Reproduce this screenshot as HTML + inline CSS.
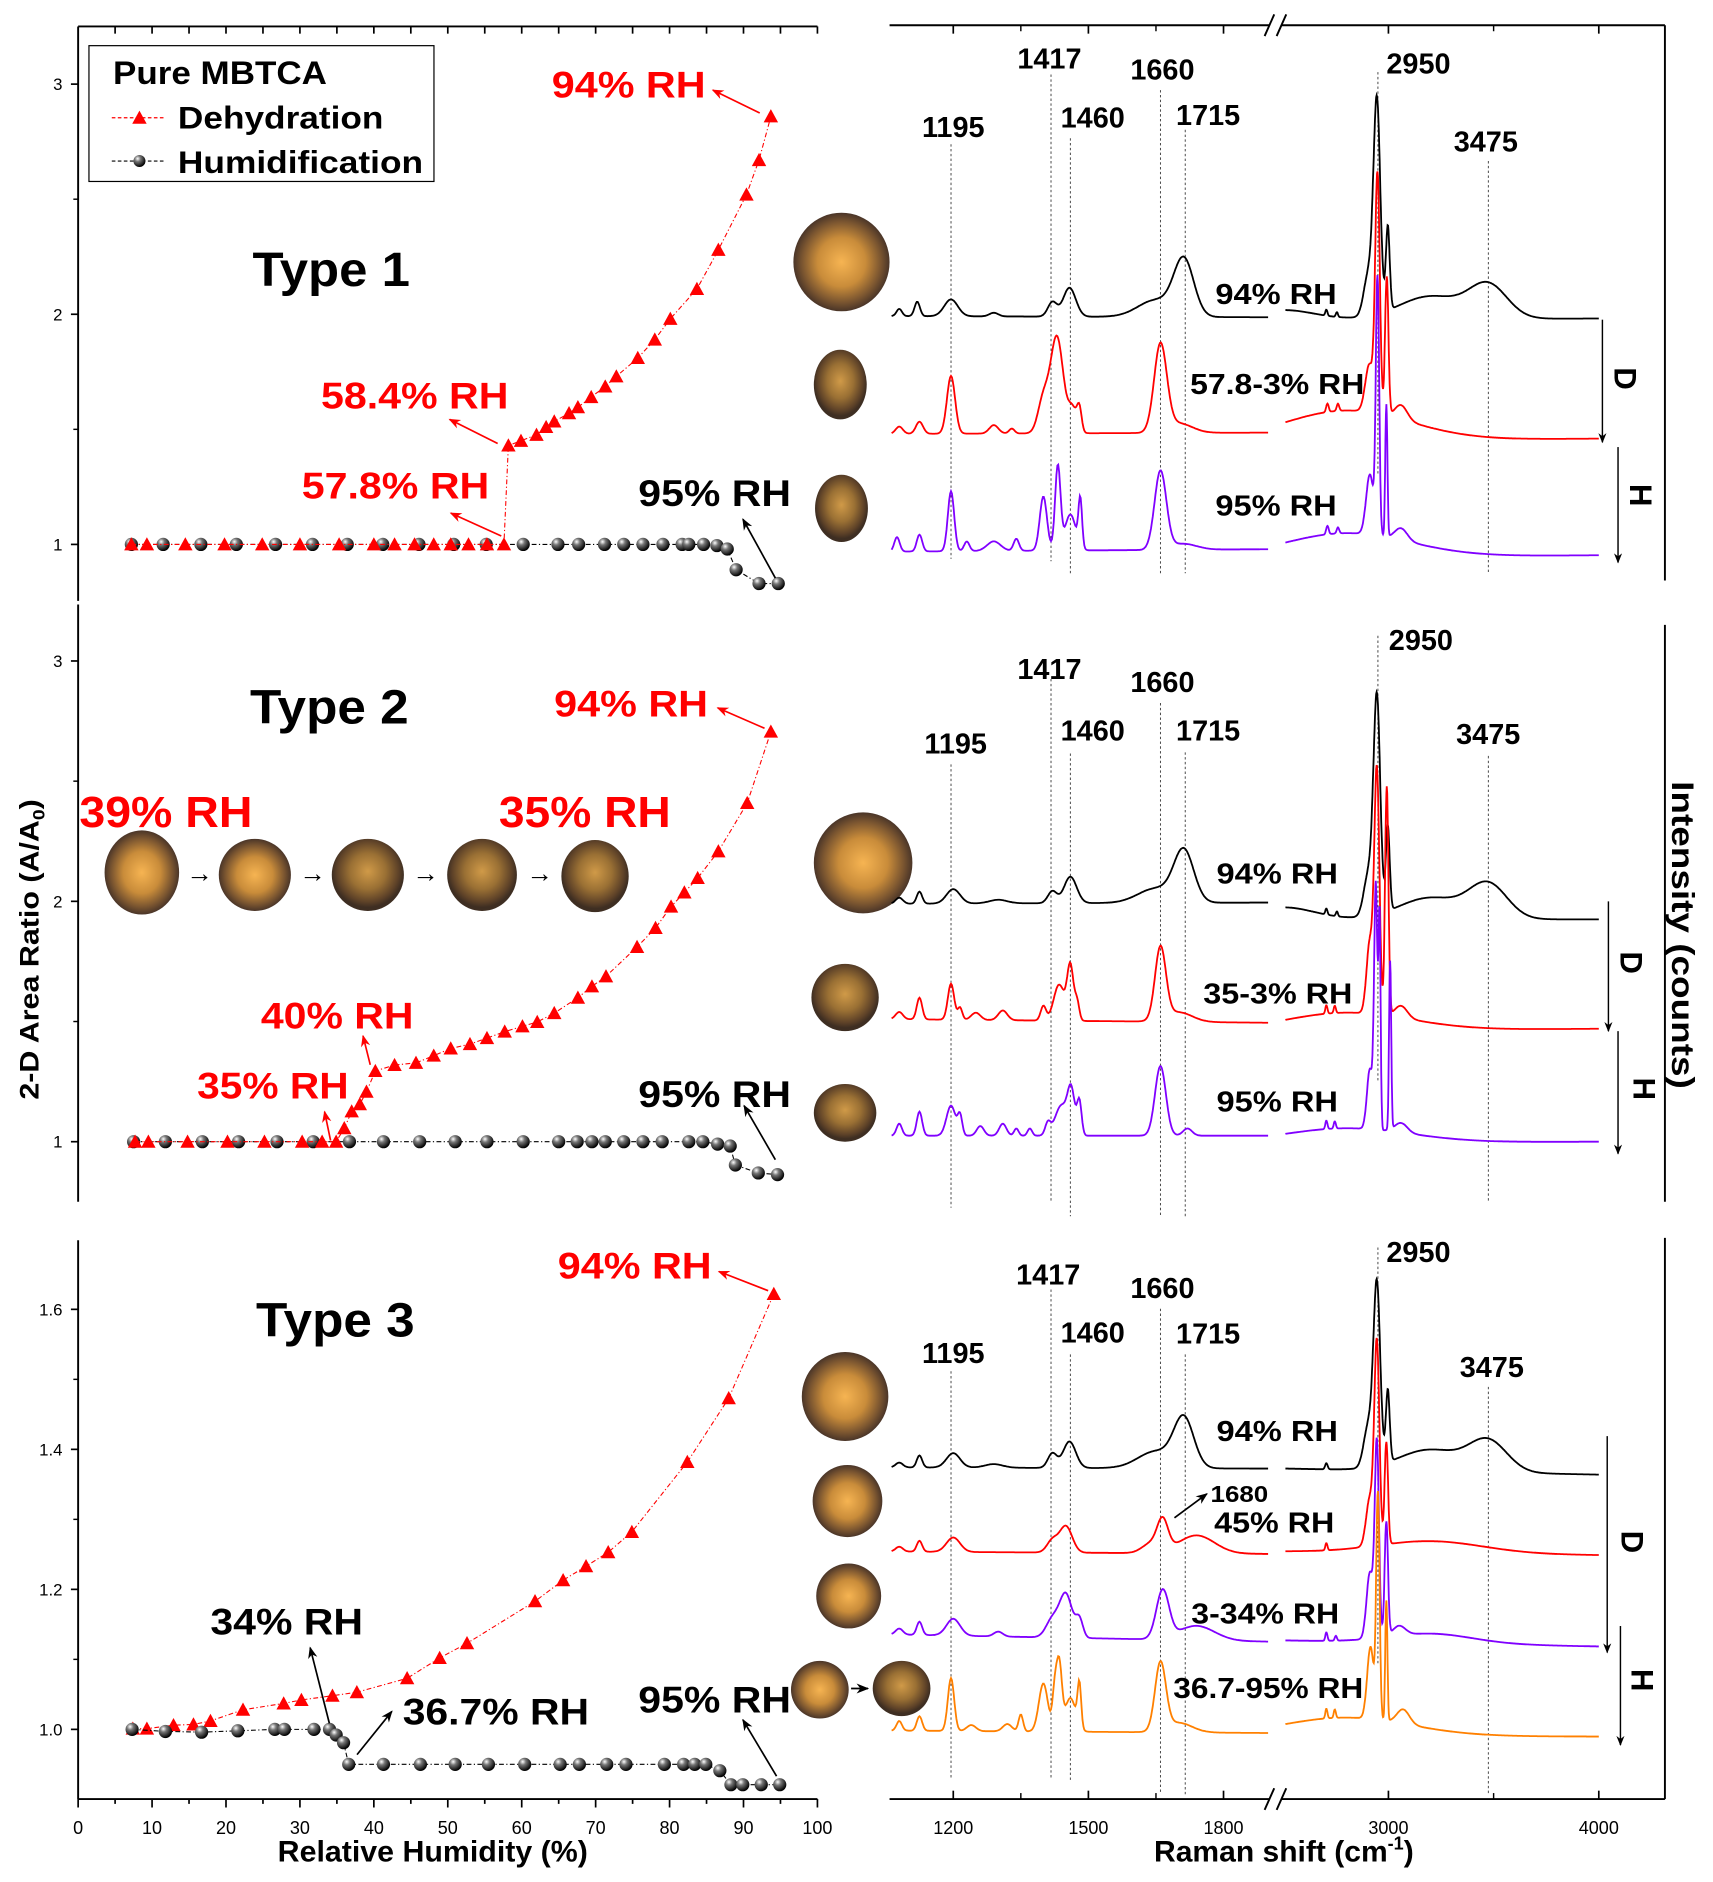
<!DOCTYPE html>
<html><head><meta charset="utf-8"><title>MBTCA hygroscopic growth and Raman spectra</title>
<style>
html,body{margin:0;padding:0;background:#fff;}
svg{display:block;font-family:"Liberation Sans",Arial,sans-serif;}
.b{font-weight:bold;}
</style></head>
<body>
<svg id="fig" xmlns="http://www.w3.org/2000/svg" width="1713" height="1882" viewBox="0 0 1425 1566" preserveAspectRatio="none">
<defs>
<radialGradient id="sph" cx="0.35" cy="0.3" r="0.7"><stop offset="0" stop-color="#fff"/><stop offset="0.35" stop-color="#777"/><stop offset="1" stop-color="#000"/></radialGradient>
<radialGradient id="drop" cx="0.5" cy="0.5" r="0.5"><stop offset="0" stop-color="#f6b452"/><stop offset="0.5" stop-color="#c98c3a"/><stop offset="0.82" stop-color="#7a5530"/><stop offset="1" stop-color="#4a3528"/></radialGradient>
<radialGradient id="drop2" cx="0.5" cy="0.45" r="0.5"><stop offset="0" stop-color="#d09a48"/><stop offset="0.5" stop-color="#9a7034"/><stop offset="0.85" stop-color="#5e4228"/><stop offset="1" stop-color="#3e2e22"/></radialGradient>
<marker id="ah" viewBox="0 0 10 10" refX="9" refY="5" markerWidth="7" markerHeight="7" orient="auto"><path d="M0,1 L10,5 L0,9 L3,5 z" fill="#000"/></marker>
<marker id="ahr" viewBox="0 0 10 10" refX="9" refY="5" markerWidth="7" markerHeight="7" orient="auto"><path d="M0,1 L10,5 L0,9 L3,5 z" fill="#f00"/></marker>
</defs>

<g stroke="#000" stroke-width="1.6" fill="none">
<line x1="65" y1="22" x2="65" y2="500"/>
<line x1="65" y1="22" x2="680" y2="22"/>
<line x1="65" y1="503" x2="65" y2="1000"/>
<line x1="65" y1="1032" x2="65" y2="1497"/>
<line x1="65" y1="1497" x2="680" y2="1497"/>
</g>
<g id="leftTicks"></g>

<g>
<rect x="74" y="38" width="287" height="113" fill="#fff" stroke="#000" stroke-width="1"/>
<text class="b" x="94" y="70" font-size="27" textLength="178" lengthAdjust="spacingAndGlyphs">Pure MBTCA</text>
<g>
<line x1="93" y1="98" x2="137" y2="98" stroke="#f00" stroke-width="1" stroke-dasharray="3 2"/>
<path d="M110,103 L122,103 L116,92 z" fill="#f00"/>
<text class="b" x="148" y="107" font-size="26" textLength="171" lengthAdjust="spacingAndGlyphs">Dehydration</text></g>
<g>
<line x1="93" y1="134" x2="137" y2="134" stroke="#000" stroke-width="1" stroke-dasharray="3 2"/>
<circle cx="116" cy="134" r="5" fill="url(#sph)"/>
<text class="b" x="148" y="144" font-size="26" textLength="204" lengthAdjust="spacingAndGlyphs">Humidification</text></g>
</g>

<g id="leftData"></g>

<g class="b">
<text x="210" y="238" font-size="40" textLength="131" lengthAdjust="spacingAndGlyphs">Type 1</text>
<text x="208" y="602" font-size="40" textLength="132" lengthAdjust="spacingAndGlyphs">Type 2</text>
<text x="213" y="1112" font-size="40" textLength="132" lengthAdjust="spacingAndGlyphs">Type 3</text>
<g fill="#f00">
<text x="459" y="81" font-size="31" textLength="128" lengthAdjust="spacingAndGlyphs">94% RH</text>
<text x="267" y="340" font-size="31" textLength="156" lengthAdjust="spacingAndGlyphs">58.4% RH</text>
<text x="251" y="415" font-size="31" textLength="156" lengthAdjust="spacingAndGlyphs">57.8% RH</text>
<text x="461" y="596" font-size="31" textLength="128" lengthAdjust="spacingAndGlyphs">94% RH</text>
<text x="66" y="688" font-size="36" textLength="144" lengthAdjust="spacingAndGlyphs">39% RH</text>
<text x="415" y="688" font-size="36" textLength="143" lengthAdjust="spacingAndGlyphs">35% RH</text>
<text x="217" y="856" font-size="31" textLength="127" lengthAdjust="spacingAndGlyphs">40% RH</text>
<text x="164" y="914" font-size="31" textLength="126" lengthAdjust="spacingAndGlyphs">35% RH</text>
<text x="464" y="1064" font-size="31" textLength="128" lengthAdjust="spacingAndGlyphs">94% RH</text>
</g>
<text x="531" y="421" font-size="31" textLength="127" lengthAdjust="spacingAndGlyphs">95% RH</text>
<text x="531" y="921" font-size="31" textLength="127" lengthAdjust="spacingAndGlyphs">95% RH</text>
<text x="175" y="1360" font-size="31" textLength="127" lengthAdjust="spacingAndGlyphs">34% RH</text>
<text x="335" y="1435" font-size="31" textLength="155" lengthAdjust="spacingAndGlyphs">36.7% RH</text>
<text x="531" y="1425" font-size="31" textLength="127" lengthAdjust="spacingAndGlyphs">95% RH</text>
</g>
<g stroke-width="1.4" fill="none">
<g stroke="#f00">
<line x1="632" y1="94" x2="593" y2="75" marker-end="url(#ahr)"/>
<line x1="414" y1="369" x2="374" y2="349" marker-end="url(#ahr)"/>
<line x1="417" y1="446" x2="375" y2="427" marker-end="url(#ahr)"/>
<line x1="636" y1="606" x2="597" y2="589" marker-end="url(#ahr)"/>
<line x1="308" y1="886" x2="302" y2="862" marker-end="url(#ahr)"/>
<line x1="275" y1="949" x2="270" y2="925" marker-end="url(#ahr)"/>
<line x1="639" y1="1074" x2="598" y2="1058" marker-end="url(#ahr)"/>
</g>
<g stroke="#000">
<line x1="645" y1="481" x2="618" y2="432" marker-end="url(#ah)"/>
<line x1="645" y1="965" x2="619" y2="920" marker-end="url(#ah)"/>
<line x1="274" y1="1434" x2="258" y2="1371" marker-end="url(#ah)"/>
<line x1="297" y1="1460" x2="326" y2="1424" marker-end="url(#ah)"/>
<line x1="646" y1="1478" x2="618" y2="1431" marker-end="url(#ah)"/>
</g>
</g>

<text class="b" transform="translate(32,790) rotate(-90)" text-anchor="middle" font-size="22" textLength="250" lengthAdjust="spacingAndGlyphs">2-D Area Ratio (A/A<tspan font-size="14" dy="5">0</tspan><tspan dy="-5">)</tspan></text>
<text class="b" x="231" y="1549" font-size="25" textLength="258" lengthAdjust="spacingAndGlyphs">Relative Humidity (%)</text>
<text class="b" x="960" y="1549" font-size="25">Raman shift (cm<tspan font-size="15" dy="-10">-1</tspan><tspan dy="10">)</tspan></text>
<text class="b" transform="translate(1391,778) rotate(90)" text-anchor="middle" font-size="26" textLength="256" lengthAdjust="spacingAndGlyphs">Intensity (counts)</text>

<g stroke="none">
<ellipse cx="700" cy="218" rx="40" ry="41" fill="url(#drop)"/>
<ellipse cx="699" cy="320" rx="22" ry="29" fill="url(#drop2)"/>
<ellipse cx="700" cy="423" rx="22" ry="28" fill="url(#drop2)"/>
<ellipse cx="118" cy="726" rx="31" ry="35" fill="url(#drop)"/>
<ellipse cx="212" cy="728" rx="30" ry="30" fill="url(#drop)"/>
<ellipse cx="306" cy="728" rx="30" ry="30" fill="url(#drop2)"/>
<ellipse cx="401" cy="728" rx="29" ry="30" fill="url(#drop2)"/>
<ellipse cx="495" cy="729" rx="28" ry="30" fill="url(#drop2)"/>
<ellipse cx="718" cy="718" rx="41" ry="42" fill="url(#drop)"/>
<ellipse cx="703" cy="830" rx="28" ry="28" fill="url(#drop2)"/>
<ellipse cx="703" cy="926" rx="26" ry="24" fill="url(#drop2)"/>
<ellipse cx="703" cy="1162" rx="36" ry="37" fill="url(#drop)"/>
<ellipse cx="705" cy="1249" rx="29" ry="30" fill="url(#drop)"/>
<ellipse cx="706" cy="1328" rx="27" ry="27" fill="url(#drop)"/>
<ellipse cx="682" cy="1406" rx="24" ry="24" fill="url(#drop)"/>
<ellipse cx="750" cy="1405" rx="24" ry="23" fill="url(#drop2)"/>
</g>
<g font-size="22">
<text x="155" y="734">→</text><text x="249" y="734">→</text><text x="343" y="734">→</text><text x="438" y="734">→</text>
<line x1="708" y1="1405" x2="722" y2="1405" stroke="#000" stroke-width="1.5" marker-end="url(#ah)"/>
</g>

<g stroke="#000" stroke-width="1.6" fill="none">
<line x1="740" y1="21" x2="1056" y2="21"/><line x1="1066" y1="21" x2="1385" y2="21"/>
<line x1="1385" y1="21" x2="1385" y2="483"/>
<line x1="1385" y1="520" x2="1385" y2="1000"/>
<line x1="1385" y1="1030" x2="1385" y2="1497"/>
<line x1="740" y1="1497" x2="1056" y2="1497"/><line x1="1066" y1="1497" x2="1385" y2="1497"/>
<line x1="1052" y1="30" x2="1060" y2="12"/><line x1="1062" y1="30" x2="1070" y2="12"/>
<line x1="1052" y1="1506" x2="1060" y2="1488"/><line x1="1062" y1="1506" x2="1070" y2="1488"/>
</g>
<g id="ramanTicks"></g>
<g id="guides"></g>
<g id="spectra"></g>

<g class="b" font-size="24" text-anchor="middle">
<text x="873" y="57">1417</text><text x="967" y="66">1660</text><text x="793" y="114">1195</text><text x="909" y="106">1460</text><text x="1005" y="104">1715</text><text x="1180" y="61">2950</text><text x="1236" y="126">3475</text>
<text x="873" y="565">1417</text><text x="967" y="576">1660</text><text x="795" y="627">1195</text><text x="909" y="616">1460</text><text x="1005" y="616">1715</text><text x="1182" y="541">2950</text><text x="1238" y="619">3475</text>
<text x="872" y="1069">1417</text><text x="967" y="1080">1660</text><text x="793" y="1134">1195</text><text x="909" y="1117">1460</text><text x="1005" y="1118">1715</text><text x="1180" y="1050">2950</text><text x="1241" y="1146">3475</text>
</g>
<g class="b" font-size="24">
<text x="1011" y="253" textLength="101" lengthAdjust="spacingAndGlyphs">94% RH</text>
<text x="990" y="328" textLength="145" lengthAdjust="spacingAndGlyphs">57.8-3% RH</text>
<text x="1011" y="429" textLength="101" lengthAdjust="spacingAndGlyphs">95% RH</text>
<text x="1012" y="735" textLength="101" lengthAdjust="spacingAndGlyphs">94% RH</text>
<text x="1001" y="835" textLength="124" lengthAdjust="spacingAndGlyphs">35-3% RH</text>
<text x="1012" y="925" textLength="101" lengthAdjust="spacingAndGlyphs">95% RH</text>
<text x="1012" y="1199" textLength="101" lengthAdjust="spacingAndGlyphs">94% RH</text>
<text x="1007" y="1250" font-size="19" textLength="48" lengthAdjust="spacingAndGlyphs">1680</text>
<text x="1010" y="1275" textLength="100" lengthAdjust="spacingAndGlyphs">45% RH</text>
<text x="991" y="1351" textLength="123" lengthAdjust="spacingAndGlyphs">3-34% RH</text>
<text x="976" y="1413" textLength="158" lengthAdjust="spacingAndGlyphs">36.7-95% RH</text>
</g>
<line x1="977" y1="1263" x2="1004" y2="1243" stroke="#000" stroke-width="1.4" marker-end="url(#ah)"/>
<g stroke="#000" stroke-width="1.2">
<line x1="1333" y1="266" x2="1333" y2="368" marker-end="url(#ah)"/>
<line x1="1346" y1="372" x2="1346" y2="468" marker-end="url(#ah)"/>
<line x1="1338" y1="750" x2="1338" y2="858" marker-end="url(#ah)"/>
<line x1="1346" y1="858" x2="1346" y2="960" marker-end="url(#ah)"/>
<line x1="1337" y1="1195" x2="1337" y2="1375" marker-end="url(#ah)"/>
<line x1="1348" y1="1353" x2="1348" y2="1452" marker-end="url(#ah)"/>
</g>
<g class="b" font-size="26" text-anchor="middle">
<text transform="translate(1343,315) rotate(90)">D</text>
<text transform="translate(1356,412) rotate(90)">H</text>
<text transform="translate(1348,801) rotate(90)">D</text>
<text transform="translate(1359,906) rotate(90)">H</text>
<text transform="translate(1349,1283) rotate(90)">D</text>
<text transform="translate(1357,1398) rotate(90)">H</text>
</g>

<script>
// ===== humidity data =====
const rhT1Dehyd=[7.2,9.3,14.5,19.8,24.9,30,35.3,40,42.8,45.5,48.1,50.4,52.8,55.3,57.6,58.2,59.9,62.0,63.3,64.4,66.4,67.6,69.4,71.3,72.8,75.7,78.0,80.1,83.7,86.6,90.4,92.1,93.7];
const ratioT1Dehyd=[1,1,1,1,1,1,1,1,1,1,1,1,1,1,1,1.43,1.45,1.476,1.51,1.534,1.57,1.596,1.64,1.686,1.73,1.81,1.89,1.98,2.11,2.28,2.52,2.67,2.86];
const rhT1Humid=[7.2,11.5,16.6,21.4,26.7,31.7,36.4,41.2,46.1,50.8,55.2,60.2,64.9,67.7,71.2,73.8,76.4,79.1,81.7,82.6,84.6,86.4,87.8,89.0,92.1,94.7];
const ratioT1Humid=[1,1,1,1,1,1,1,1,1,1,1,1,1,1,1,1,1,1,1,1,1,0.995,0.98,0.89,0.83,0.83];
const rhT2Dehyd=[7.7,9.5,14.8,20.2,25.2,30.3,33.0,34.9,36.0,37.0,38.1,39.0,40.2,42.8,45.7,48.1,50.4,53.0,55.3,57.7,60.1,62.1,64.4,67.6,69.5,71.4,75.6,78.1,80.2,82.0,83.8,86.6,90.5,93.7];
const ratioT2Dehyd=[1,1,1,1,1,1,1,1,1.056,1.126,1.156,1.208,1.294,1.319,1.328,1.358,1.388,1.406,1.431,1.458,1.48,1.498,1.535,1.599,1.646,1.688,1.81,1.889,1.978,2.037,2.097,2.208,2.409,2.706];
const rhT2Humid=[7.5,11.8,16.8,21.7,26.9,31.8,36.7,41.3,46.2,51.0,55.3,60.2,65.0,67.5,69.5,71.3,73.8,76.4,79.0,82.6,84.5,86.5,88.2,88.9,92.0,94.6];
const ratioT2Humid=[1,1,1,1,1,1,1,1,1,1,1,1,1,1,1,1,1,1,1,1,1,0.99,0.982,0.903,0.87,0.863];
const rhT3Dehyd=[7.4,9.3,12.9,15.6,17.9,22.3,27.8,30.2,34.4,37.7,44.5,48.9,52.6,61.8,65.6,68.7,71.7,74.9,82.4,88.0,94.1];
const ratioT3Dehyd=[1.001,1.001,1.006,1.007,1.012,1.028,1.037,1.042,1.048,1.053,1.073,1.102,1.123,1.183,1.213,1.233,1.253,1.282,1.382,1.473,1.622];
const rhT3Humid=[7.3,11.8,16.7,21.6,26.6,27.9,31.9,34.0,34.9,35.9,36.6,41.3,46.3,51.0,55.5,60.4,65.2,67.8,71.5,74.1,79.3,81.9,83.4,84.9,86.8,88.3,89.9,92.4,94.9];
const ratioT3Humid=[1.0,0.997,0.996,0.998,1.0,1.0,1.0,1.0,0.992,0.981,0.95,0.95,0.95,0.95,0.95,0.95,0.95,0.95,0.95,0.95,0.95,0.95,0.95,0.95,0.941,0.921,0.921,0.921,0.921];
const xTicks=[0,10,20,30,40,50,60,70,80,90,100];
const yTicksT1=[1,2,3];
const yTicksT3=[1.0,1.2,1.4,1.6];

// ===== Raman peak data: [position cm-1, height, width] =====
const t1BlackL=[[1080,6,6],[1120,12,6],[1195,14,15],[1290,3,10],[1420,12,10],[1458,24,14],[1650,14,40],[1712,46,22]];
const t1BlackR=[[2500,8,150],[2705,5,5],[2755,4,5],[2905,35,22],[2945,175,16],[2997,70,9],[3200,19,150],[3475,27,90]];
const t1RedL=[[1080,6,8],[1125,10,8],[1195,48,9],[1290,7,10],[1330,4,6],[1400,28,12],[1430,80,14],[1465,20,10],[1480,18,5],[1660,72,14],[1700,8,30]];
const t1RedR=[[2800,25,300],[2710,7,6],[2760,6,6],[2910,40,20],[2948,195,11],[2992,115,8],[3060,12,30]];
const t1PurpleL=[[1075,12,6],[1125,14,6],[1195,50,7],[1230,8,6],[1290,8,15],[1340,10,6],[1400,45,8],[1432,70,6],[1460,30,12],[1482,40,4],[1660,65,13],[1710,5,30]];
const t1PurpleR=[[2800,20,300],[2710,7,6],[2760,5,6],[2912,50,18],[2948,210,8],[2990,110,5],[3060,10,30]];
const t2BlackL=[[1080,5,8],[1125,10,6],[1200,12,15],[1300,3,20],[1420,10,10],[1460,22,14],[1650,12,40],[1712,42,22]];
const t2BlackR=[[2500,10,150],[2705,5,5],[2755,4,5],[2905,35,22],[2945,178,16],[2997,70,9],[3200,18,150],[3475,28,90]];
const t2RedL=[[1080,6,8],[1125,18,6],[1195,30,7],[1215,10,5],[1250,6,10],[1310,8,10],[1400,12,6],[1435,30,12],[1460,45,7],[1475,15,5],[1660,60,12],[1700,8,30]];
const t2RedR=[[2800,15,300],[2705,7,5],[2745,6,5],[2912,60,16],[2945,200,12],[2992,190,8],[3060,10,30]];
const t2PurpleL=[[1080,10,6],[1125,20,6],[1195,25,10],[1215,16,5],[1260,8,8],[1310,10,8],[1340,6,5],[1370,6,5],[1410,10,6],[1440,25,14],[1462,35,8],[1480,28,5],[1660,58,12],[1720,6,10]];
const t2PurpleR=[[2800,12,300],[2705,7,5],[2745,6,5],[2912,50,14],[2940,200,8],[2958,170,5],[3008,140,5],[3060,8,30]];
const t3BlackL=[[1080,4,8],[1125,10,6],[1200,12,15],[1290,3,20],[1420,12,10],[1458,22,14],[1650,14,40],[1712,40,22]];
const t3BlackR=[[2705,5,6],[2905,35,22],[2945,148,16],[2997,60,9],[3200,18,150],[3475,25,90]];
const t3RedL=[[1080,4,8],[1125,9,6],[1200,12,15],[1420,10,12],[1450,22,14],[1640,8,20],[1665,24,12],[1740,15,40]];
const t3RedR=[[2705,6,5],[2912,40,18],[2945,165,12],[2990,85,8],[3200,10,250]];
const t3PurpleL=[[1080,5,8],[1125,11,6],[1200,14,15],[1300,4,10],[1420,15,14],[1450,36,14],[1480,15,8],[1665,40,14],[1740,12,40]];
const t3PurpleR=[[2705,7,5],[2750,4,5],[2912,55,16],[2945,160,10],[2990,95,8],[3050,8,30],[3200,8,200]];
const t3OrangeL=[[1080,8,6],[1125,12,6],[1195,44,7],[1240,5,10],[1320,6,10],[1350,14,5],[1400,40,10],[1425,30,5],[1435,55,6],[1460,28,12],[1480,36,4],[1660,56,12],[1700,8,30]];
const t3OrangeR=[[2800,15,300],[2705,8,5],[2745,7,5],[2915,60,16],[2950,185,8],[2990,100,5],[3070,12,30]];
const guidePeaks=[1195,1417,1460,1660,1715,2950,3475];
const ramanMajor=[1200,1500,1800,3000,4000];
const ramanMinor=[1350,1650,3500];

const NS='http://www.w3.org/2000/svg';
function mk(tag,attrs,parent){const e=document.createElementNS(NS,tag);for(const k in attrs)e.setAttribute(k,attrs[k]);parent.appendChild(e);return e;}

function xRH(v){return 65+v*6.15;}
const panels=[{y1:453,unit:191.5},{y1:950,unit:200},{y1:1439,unit:582.5}];
function yRatio(p,v){return panels[p].y1-(v-1)*panels[p].unit;}
function ramanX(cm){return cm<2200?793+(cm-1200)*0.3747:1155+(cm-3000)*0.175;}

const lt=document.getElementById('leftTicks');
for(let v=5;v<=100;v+=5){const t=mk('line',{x1:xRH(v),y1:22,x2:xRH(v),y2:28,stroke:'#000','stroke-width':1.4},lt);

}
for(let v=5;v<=100;v+=5){const big=v%10===0;const t=mk('line',{x1:xRH(v),y1:1497,x2:xRH(v),y2:big?1504:1501,stroke:'#000','stroke-width':1.4},lt);

}
mk('line',{x1:65,y1:1497,x2:65,y2:1504,stroke:'#000','stroke-width':1.4},lt);
xTicks.forEach(v=>{const t=mk('text',{x:xRH(v),y:1526,'font-size':15,'text-anchor':'middle'},lt);t.textContent=v;

});
[0,1].forEach(p=>{
 yTicksT1.forEach(v=>{const y=yRatio(p,v);mk('line',{x1:59,y1:y,x2:65,y2:y,stroke:'#000','stroke-width':1.4},lt);
 const t=mk('text',{x:52,y:y+5,'font-size':14,'text-anchor':'end'},lt);t.textContent=v;
 
 });
 [1.5,2.5].forEach(v=>{const y=yRatio(p,v);mk('line',{x1:61,y1:y,x2:65,y2:y,stroke:'#000','stroke-width':1.2},lt);});
});
yTicksT3.forEach(v=>{const y=yRatio(2,v);mk('line',{x1:59,y1:y,x2:65,y2:y,stroke:'#000','stroke-width':1.4},lt);
 const t=mk('text',{x:52,y:y+5,'font-size':14,'text-anchor':'end'},lt);t.textContent=v.toFixed(1);
 
 });
[0.9,1.1,1.3,1.5,1.7].forEach(v=>{const y=yRatio(2,v);if(y>1032&&y<1497)mk('line',{x1:61,y1:y,x2:65,y2:y,stroke:'#000','stroke-width':1.2},lt);});

const ld=document.getElementById('leftData');
function series(p,xs,ys,kind,name){
 const g=mk('g',{},ld);
 
 
 const col=kind==='tri'?'#f00':'#000';
 const pts=xs.map((x,i)=>xRH(x).toFixed(1)+','+yRatio(p,ys[i]).toFixed(1)).join(' ');
 mk('polyline',{points:pts,fill:'none',stroke:col,'stroke-width':0.9,'stroke-dasharray':'4 2 1 2'},g);
 xs.forEach((x,i)=>{const cx=xRH(x),cy=yRatio(p,ys[i]);let m;
  if(kind==='tri'){m=mk('path',{d:`M${cx-6},${cy+5} L${cx+6},${cy+5} L${cx},${cy-6} z`,fill:'#f00'},g);}
  else{m=mk('circle',{cx:cx,cy:cy,r:5.5,fill:'url(#sph)'},g);}
  
  });
}
series(0,rhT1Humid,ratioT1Humid,'sph','type1-humidification');
series(0,rhT1Dehyd,ratioT1Dehyd,'tri','type1-dehydration');
series(1,rhT2Humid,ratioT2Humid,'sph','type2-humidification');
series(1,rhT2Dehyd,ratioT2Dehyd,'tri','type2-dehydration');
series(2,rhT3Dehyd,ratioT3Dehyd,'tri','type3-dehydration');
series(2,rhT3Humid,ratioT3Humid,'sph','type3-humidification');

const rt=document.getElementById('ramanTicks');
ramanMajor.forEach(c=>{const x=ramanX(c);
 mk('line',{x1:x,y1:21,x2:x,y2:28,stroke:'#000','stroke-width':1.4},rt);
 mk('line',{x1:x,y1:1497,x2:x,y2:1490,stroke:'#000','stroke-width':1.4},rt);
 const t=mk('text',{x:x,y:1526,'font-size':15,'text-anchor':'middle'},rt);t.textContent=c;
 
 });
ramanMinor.forEach(c=>{const x=ramanX(c);
 mk('line',{x1:x,y1:21,x2:x,y2:26,stroke:'#000','stroke-width':1.2},rt);
 mk('line',{x1:x,y1:1497,x2:x,y2:1492,stroke:'#000','stroke-width':1.2},rt);});

const gd=document.getElementById('guides');
const guideSpans=[[[120,465],[62,467],[115,478],[75,477],[108,477],[60,395],[134,478]],
 [[636,1005],[565,999],[627,1012],[585,1012],[626,1012],[529,900],[629,999]],
 [[1141,1479],[1073,1480],[1127,1482],[1089,1493],[1127,1493],[1038,1385],[1154,1493]]];
guideSpans.forEach(sp=>guidePeaks.forEach((c,i)=>{const x=ramanX(c);
 const l=mk('line',{x1:x,y1:sp[i][0],x2:x,y2:sp[i][1],stroke:'#444','stroke-width':0.8,'stroke-dasharray':'2 2'},gd);
 
 }));

const sp=document.getElementById('spectra');
function sumPeaks(c,peaks){let s=0;for(const p of peaks){const d=c-p[0];s+=p[1]*Math.exp(-d*d/(2*p[2]*p[2]));}return s;}
function trace(peaksL,peaksR,bL0,bL1,bR0,bR1,col,name){
 const g=mk('g',{},sp);
 
 
 let d='';
 for(let c=1063;c<=1900;c+=2){const b=bL0+(bL1-bL0)*(c-1063)/837;d+=(c===1063?'M':'L')+ramanX(c).toFixed(1)+','+(b-sumPeaks(c,peaksL)).toFixed(1);}
 mk('path',{d:d,fill:'none',stroke:col,'stroke-width':1.5},g);
 d='';
 for(let c=2510;c<=4000;c+=2){const b=bR0+(bR1-bR0)*(c-2510)/1490;d+=(c===2510?'M':'L')+ramanX(c).toFixed(1)+','+(b-sumPeaks(c,peaksR)).toFixed(1);}
 mk('path',{d:d,fill:'none',stroke:col,'stroke-width':1.5},g);
}
trace(t1BlackL,t1BlackR,263,264,266,265,'#000','spectrum-type1-94rh');
trace(t1RedL,t1RedR,361,360,367,365,'#f00','spectrum-type1-57-8-3rh');
trace(t1PurpleL,t1PurpleR,459,457,464,462,'#8000ff','spectrum-type1-95rh');
trace(t2BlackL,t2BlackR,752,751,765,765,'#000','spectrum-type2-94rh');
trace(t2RedL,t2RedR,848,851,858,856,'#f00','spectrum-type2-35-3rh');
trace(t2PurpleL,t2PurpleR,945,945,951,950,'#8000ff','spectrum-type2-95rh');
trace(t3BlackL,t3BlackR,1221,1222,1222,1227,'#000','spectrum-type3-94rh');
trace(t3RedL,t3RedR,1291,1293,1291,1294,'#f00','spectrum-type3-45rh');
trace(t3PurpleL,t3PurpleR,1360,1366,1365,1370,'#8000ff','spectrum-type3-3-34rh');
trace(t3OrangeL,t3OrangeR,1440,1442,1444,1445,'#ff8000','spectrum-type3-36-7-95rh');
</script>
</svg>
</body></html>
